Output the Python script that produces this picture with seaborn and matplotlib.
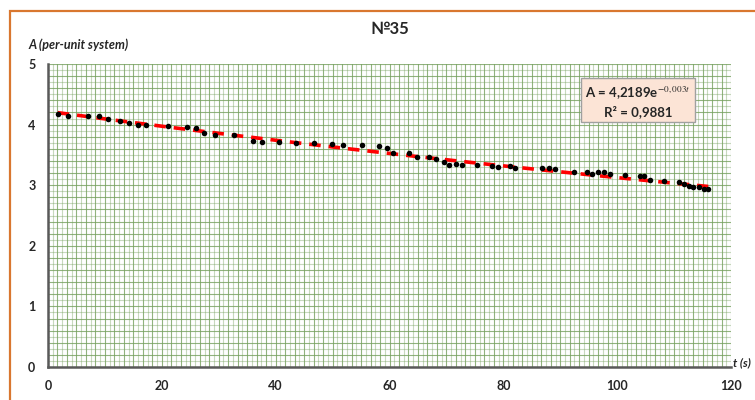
import numpy as np
import pandas as pd
import matplotlib
matplotlib.use("Agg")
import matplotlib.pyplot as plt
from matplotlib.patches import Rectangle
import seaborn as sns

# ---- data ----
t_values = [1.7, 3.5, 7.1, 9.0, 10.6, 12.7, 14.2, 15.9, 17.3, 21.0,
            24.4, 26.0, 27.4, 29.3, 32.7, 36.1, 37.6, 40.5, 43.6, 46.7,
            49.9, 51.9, 55.1, 58.1, 59.5, 60.7, 63.5, 64.8, 67.0, 68.2,
            69.5, 70.5, 71.7, 72.7, 75.4, 78.0, 79.0, 81.2, 82.1, 86.8,
            88.0, 89.1, 92.5, 94.7, 95.5, 96.6, 97.7, 98.8, 101.3, 104.0,
            104.8, 105.7, 108.3, 110.9, 111.7, 112.6, 113.4, 114.3, 115.2, 116.0]
A_values = [4.17, 4.15, 4.14, 4.15, 4.09, 4.06, 4.02, 3.99, 3.99, 3.97,
            3.96, 3.94, 3.86, 3.83, 3.83, 3.73, 3.72, 3.71, 3.70, 3.69,
            3.68, 3.67, 3.67, 3.65, 3.62, 3.53, 3.53, 3.47, 3.47, 3.43,
            3.38, 3.34, 3.35, 3.34, 3.33, 3.31, 3.30, 3.32, 3.29, 3.29,
            3.29, 3.27, 3.22, 3.22, 3.19, 3.21, 3.21, 3.18, 3.17, 3.16,
            3.16, 3.09, 3.07, 3.05, 3.02, 2.98, 2.97, 2.97, 2.94, 2.93]
fit_a = 4.2189
fit_b = -0.003
r_squared = 0.9881
x_ticks = [0, 20, 40, 60, 80, 100, 120]
y_ticks = [0, 1, 2, 3, 4, 5]
title = "№35"
y_label = "A (per-unit system)"
x_label = "t (s)"

df = pd.DataFrame({"t": t_values, "A": A_values})
t_fit = np.linspace(min(t_values), max(t_values), 200)
df_fit = pd.DataFrame({"t": t_fit, "A": fit_a * np.exp(fit_b * t_fit)})

sns.set_theme(style="white")
plt.rcParams["font.family"] = ["Lato", "DejaVu Sans"]
plt.rcParams["mathtext.fontset"] = "stix"

fig = plt.figure(figsize=(7.55, 4.0), dpi=100)
fig.patch.set_facecolor("white")
ax = fig.add_axes([48/755, 1 - 367/400, (731 - 48)/755, (367 - 64)/400])
ax.set_xlim(0, 120)
ax.set_ylim(0, 5)

# graph-paper texture
gx = np.arange(0, 120 + 1e-6, 20/24)
gy = np.arange(0, 5 + 1e-6, 0.1)
for i, x in enumerate(gx):
    ax.axvline(x, color="#76A05E", lw=0.8, alpha=0.8 if i % 2 == 0 else 0.4, zorder=0)
for i, y in enumerate(gy):
    ax.axhline(y, color="#76A05E", lw=0.8, alpha=0.8 if i % 2 == 0 else 0.4, zorder=0)

sns.lineplot(data=df_fit, x="t", y="A", ax=ax, color="#FF0000", lw=2.6,
             linestyle=(0, (3.2, 2.2)), zorder=3)
sns.scatterplot(data=df, x="t", y="A", ax=ax, color="black", s=16,
                edgecolor="black", linewidth=0, zorder=4)

ax.set_xticks(x_ticks)
ax.set_yticks(y_ticks)
ax.set_xticklabels([str(v) for v in x_ticks], fontsize=9, fontweight="bold", color="#262626")
ax.set_yticklabels([str(v) for v in y_ticks], fontsize=9, fontweight="bold", color="#262626")
ax.tick_params(axis="both", length=0, pad=9)
ax.set_xlabel("")
ax.set_ylabel("")
for s in ["top", "right"]:
    ax.spines[s].set_visible(False)
for s in ["left", "bottom"]:
    ax.spines[s].set_color("#595959")
    ax.spines[s].set_linewidth(1.8)

fig.text(390/755, 1 - 29/400, title, ha="center", va="center",
         fontsize=12, fontweight="bold", color="#262626")
fig.text(28/755, 1 - 45/400, y_label, ha="left", va="center",
         fontsize=9, fontweight="bold", style="italic", color="#262626")
fig.text(733/755, 1 - 363/400, x_label, ha="left", va="center",
         fontsize=8.5, fontweight="bold", style="italic", color="#262626")

eq_text = ("A = " + f"{fit_a}".replace(".", ",") + "e$^{\\mathit{"
           + f"{fit_b}".replace(".", ",") + "t}}$\n"
           + "R² = " + f"{r_squared}".replace(".", ","))
ax.text(0.864, 0.935, eq_text,
        transform=ax.transAxes, ha="center", va="top", fontsize=9.5,
        fontweight="bold", color="#262626", linespacing=1.4,
        bbox=dict(boxstyle="square,pad=0.3", facecolor="#FCE4D6",
                  edgecolor="#A0A0A0", lw=1.0), zorder=5)

fig.patches.append(Rectangle((10/755, -0.1), 1.2, (1 - 11/400) + 0.1,
                             transform=fig.transFigure, fill=False,
                             edgecolor="#D9772F", lw=1.6))

fig.savefig("out.png", dpi=100)
